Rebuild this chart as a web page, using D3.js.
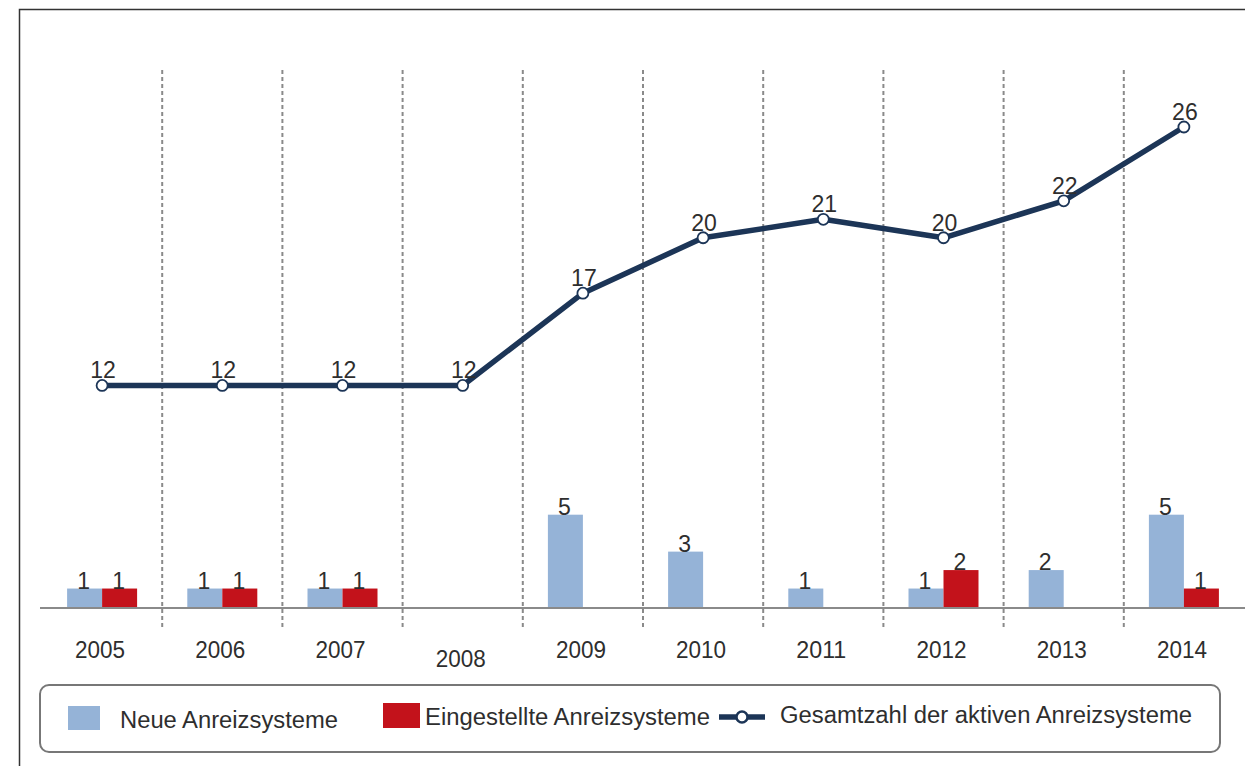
<!DOCTYPE html>
<html>
<head>
<meta charset="utf-8">
<script src="https://cdn.jsdelivr.net/npm/d3@7"></script>
<style>
  body { margin: 0; background: #fff; }
  text { font-family: "Liberation Sans", Arial, sans-serif; fill: #2e2e2e; }
</style>
</head>
<body>
<script>
// dimensions of the page
var w = 1245, h = 766

// data
const years = ["2005", "2006", "2007", "2008", "2009", "2010", "2011", "2012", "2013", "2014"]
const neue = [1, 1, 1, 0, 5, 3, 1, 1, 2, 5]
const eingestellt = [1, 1, 1, 0, 0, 0, 0, 2, 0, 1]
const gesamt = [12, 12, 12, 12, 17, 20, 21, 20, 22, 26]
const legendLabels = ["Neue Anreizsysteme", "Eingestellte Anreizsysteme", "Gesamtzahl der aktiven Anreizsysteme"]

const blue = "#95b3d7", red = "#c3121b", navy = "#1c3557"

var svg = d3.select("body").append("svg")
  .attr("width", w)
  .attr("height", h)

// frame around the picture (right / bottom edge lie outside the window)
svg.append("rect")
  .attr("x", 19.5).attr("y", 9.5)
  .attr("width", 1300).attr("height", 800)
  .attr("fill", "none").attr("stroke", "#333").attr("stroke-width", 1.5)

// scales
var x = d3.scaleBand().domain(years).range([42, 1244]).padding(0)
var y = d3.scaleLinear().domain([0, 26]).range([607, 127])
var bw = 35
var cx = function(i) { return x(years[i]) + x.bandwidth() / 2 }

// dashed separators between the years
svg.append("g").selectAll("line")
  .data(years.slice(1))
  .enter().append("line")
  .attr("x1", function(d) { return x(d) })
  .attr("x2", function(d) { return x(d) })
  .attr("y1", 70).attr("y2", 630)
  .attr("stroke", "#8a8a8a").attr("stroke-width", 2)
  .attr("stroke-dasharray", "4,3")

// bars : blue left of the year centre, red right of it
var gb = svg.append("g")
years.forEach(function(yr, i) {
  if (neue[i] > 0) {
    gb.append("rect")
      .attr("x", cx(i) - bw).attr("y", y(neue[i]))
      .attr("width", bw).attr("height", y(0) - y(neue[i]))
      .attr("fill", blue)
    gb.append("text")
      .attr("x", cx(i) - bw / 2 - 1).attr("y", y(neue[i]))
      .attr("text-anchor", "middle").attr("font-size", 23)
      .text(neue[i])
  }
  if (eingestellt[i] > 0) {
    gb.append("rect")
      .attr("x", cx(i)).attr("y", y(eingestellt[i]))
      .attr("width", bw).attr("height", y(0) - y(eingestellt[i]))
      .attr("fill", red)
    gb.append("text")
      .attr("x", cx(i) + bw / 2 - 1).attr("y", y(eingestellt[i]))
      .attr("text-anchor", "middle").attr("font-size", 23)
      .text(eingestellt[i])
  }
})

// baseline
svg.append("line")
  .attr("x1", 40).attr("x2", 1245)
  .attr("y1", y(0) + 1).attr("y2", y(0) + 1)
  .attr("stroke", "#8a8a8a").attr("stroke-width", 2)

// year labels (2008 sits a little lower)
svg.append("g").selectAll("text")
  .data(years)
  .enter().append("text")
  .attr("x", function(d, i) { return cx(i) - 2 })
  .attr("y", function(d) { return d === "2008" ? 667 : 658 })
  .attr("text-anchor", "middle").attr("font-size", 23)
  .attr("textLength", 50).attr("lengthAdjust", "spacingAndGlyphs")
  .text(function(d) { return d })

// total line
var line = d3.line()
  .x(function(d, i) { return cx(i) })
  .y(function(d) { return y(d) })

svg.append("path")
  .datum(gesamt)
  .attr("d", line)
  .attr("fill", "none").attr("stroke", navy).attr("stroke-width", 5.5)
  .attr("stroke-linejoin", "round")

svg.append("g").selectAll("circle")
  .data(gesamt)
  .enter().append("circle")
  .attr("cx", function(d, i) { return cx(i) })
  .attr("cy", function(d) { return y(d) })
  .attr("r", 5.5)
  .attr("fill", "#fff").attr("stroke", navy).attr("stroke-width", 1.8)

svg.append("g").selectAll("text")
  .data(gesamt)
  .enter().append("text")
  .attr("x", function(d, i) { return cx(i) + 1 })
  .attr("y", function(d) { return y(d) - 7 })
  .attr("text-anchor", "middle").attr("font-size", 23)
  .text(function(d) { return d })

// legend
var lg = svg.append("g")
lg.append("rect")
  .attr("x", 40).attr("y", 685).attr("width", 1180).attr("height", 67)
  .attr("rx", 9)
  .attr("fill", "#fff").attr("stroke", "#777").attr("stroke-width", 2)

lg.append("rect").attr("x", 68).attr("y", 706).attr("width", 32).attr("height", 24).attr("fill", blue)
lg.append("text").attr("x", 120).attr("y", 728).attr("font-size", 23)
  .attr("textLength", 218).attr("lengthAdjust", "spacingAndGlyphs").text(legendLabels[0])

lg.append("rect").attr("x", 383).attr("y", 703).attr("width", 37).attr("height", 25).attr("fill", red)
lg.append("text").attr("x", 425).attr("y", 725).attr("font-size", 23)
  .attr("textLength", 285).attr("lengthAdjust", "spacingAndGlyphs").text(legendLabels[1])

lg.append("line").attr("x1", 719).attr("x2", 765).attr("y1", 717).attr("y2", 717)
  .attr("stroke", navy).attr("stroke-width", 5.5)
lg.append("circle").attr("cx", 742).attr("cy", 717).attr("r", 5.5)
  .attr("fill", "#fff").attr("stroke", navy).attr("stroke-width", 2.5)
lg.append("text").attr("x", 780).attr("y", 723).attr("font-size", 23)
  .attr("textLength", 412).attr("lengthAdjust", "spacingAndGlyphs").text(legendLabels[2])
</script>
</body>
</html>
